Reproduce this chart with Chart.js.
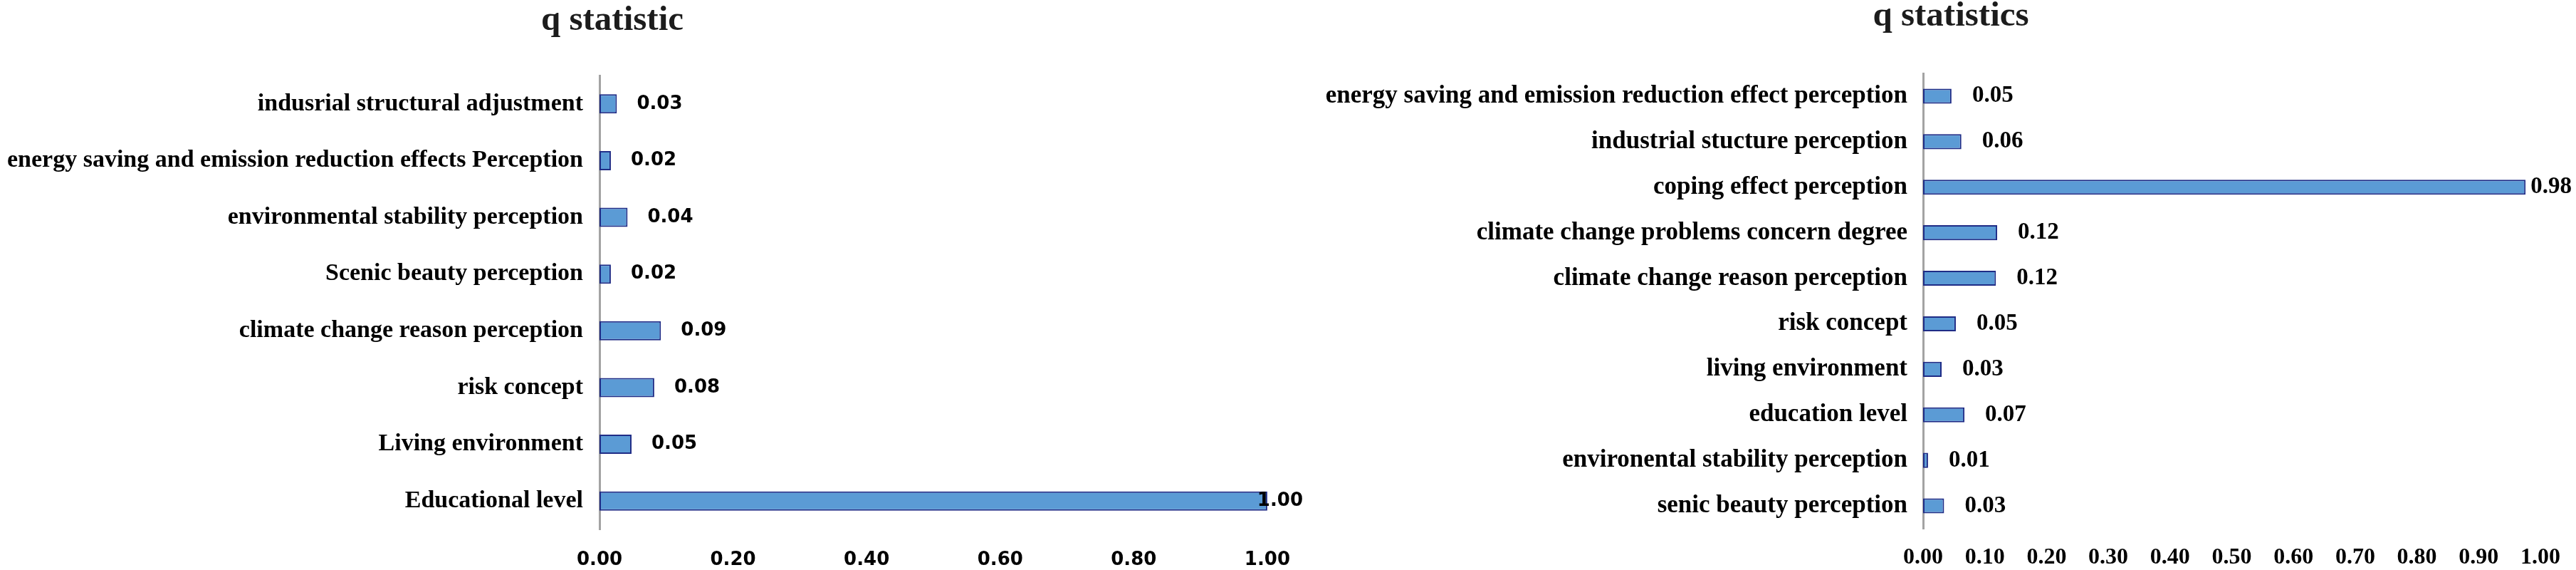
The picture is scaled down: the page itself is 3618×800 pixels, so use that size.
<!DOCTYPE html>
<html>
<head>
<meta charset="utf-8">
<script src="https://cdn.jsdelivr.net/npm/chart.js@4.4.1/dist/chart.umd.min.js"></script>
<style>
html,body{margin:0;padding:0;background:#ffffff;}
#wrap{position:relative;width:3618px;height:800px;background:#ffffff;overflow:hidden;}
#c1{position:absolute;left:0;top:0;}
#c2{position:absolute;left:1840px;top:0;}
</style>
</head>
<body>
<div id="wrap">
<canvas id="c1" width="1840" height="800"></canvas>
<canvas id="c2" width="1778" height="800"></canvas>
</div>
<script>
// ---------------- data ----------------
const leftTitle = 'q statistic';
const leftCategories = [
  'indusrial structural adjustment',
  'energy saving and emission reduction effects Perception',
  'environmental stability perception',
  'Scenic beauty perception',
  'climate change reason perception',
  'risk concept',
  'Living environment',
  'Educational level'
];
const leftValues = [0.026, 0.017, 0.042, 0.017, 0.092, 0.082, 0.048, 1.00];
const leftTickValues = [0, 0.2, 0.4, 0.6, 0.8, 1.0];

const rightTitle = 'q statistics';
const rightCategories = [
  'energy saving and emission reduction effect perception',
  'industrial stucture perception',
  'coping effect perception',
  'climate change problems concern degree',
  'climate change reason perception',
  'risk concept',
  'living environment',
  'education level',
  'environental stability perception',
  'senic beauty perception'
];
const rightValues = [0.046, 0.062, 0.976, 0.120, 0.118, 0.053, 0.030, 0.067, 0.008, 0.034];
const rightTickValues = [0, 0.1, 0.2, 0.3, 0.4, 0.5, 0.6, 0.7, 0.8, 0.9, 1.0];

// ---------------- styles ----------------
const SERIF = '"Liberation Serif","Times New Roman",Times,serif';
const SANS = '"DejaVu Sans",Tahoma,Verdana,sans-serif';
const BAR_FILL = '#5b9bd5';
const BAR_EDGE = '#1f2c86';
const AXIS_COLOR = '#a3a3a3';

const valueLabelPlugin = {
  id: 'valueLabels',
  afterDatasetsDraw(chart, args, opts) {
    const ctx = chart.ctx;
    const meta = chart.getDatasetMeta(0);
    const data = chart.data.datasets[0].data;
    ctx.save();
    ctx.font = opts.font;
    ctx.fillStyle = opts.color;
    ctx.textAlign = 'left';
    ctx.textBaseline = 'middle';
    meta.data.forEach((bar, i) => {
      const txt = Number(data[i]).toFixed(2);
      const w = ctx.measureText(txt).width;
      let x = bar.x + opts.gap;
      if (x + w > opts.maxRight) x = opts.maxRight - w;
      ctx.fillText(txt, x, bar.y);
    });
    ctx.restore();
  }
};

const titlePlugin = {
  id: 'sideTitle',
  afterDraw(chart, args, opts) {
    const ctx = chart.ctx;
    ctx.save();
    ctx.font = opts.font;
    ctx.fillStyle = opts.color;
    ctx.textAlign = 'center';
    ctx.textBaseline = 'alphabetic';
    ctx.fillText(opts.text, opts.x, opts.y);
    ctx.restore();
  }
};

function makeChart(canvasId, cfg) {
  return new Chart(document.getElementById(canvasId), {
    type: 'bar',
    data: {
      labels: cfg.categories,
      datasets: [{
        data: cfg.values,
        backgroundColor: BAR_FILL,
        borderColor: BAR_EDGE,
        borderWidth: 2,
        borderSkipped: false,
        categoryPercentage: 1.0,
        barPercentage: cfg.barPct
      }]
    },
    options: {
      indexAxis: 'y',
      responsive: false,
      animation: false,
      devicePixelRatio: 1,
      layout: { padding: { top: cfg.top, right: cfg.right, left: 0, bottom: 0 } },
      plugins: {
        legend: { display: false },
        tooltip: { enabled: false },
        title: { display: false },
        valueLabels: { font: cfg.valueFont, color: '#000', gap: cfg.gap, maxRight: cfg.maxRight },
        sideTitle: { text: cfg.title, font: cfg.titleFont, color: '#1c1c1c', x: cfg.titleX, y: cfg.titleY }
      },
      scales: {
        x: {
          min: 0, max: 1,
          grid: { display: false, drawTicks: false },
          border: { display: false },
          afterBuildTicks(s) { s.ticks = cfg.tickValues.map(v => ({ value: v })); },
          afterFit(s) { s.height = cfg.xHeight; },
          ticks: {
            autoSkip: false, maxRotation: 0, minRotation: 0,
            padding: cfg.xPad,
            color: '#000',
            font: cfg.xFont,
            callback: v => Number(v).toFixed(2)
          }
        },
        y: {
          grid: { display: false, drawTicks: false },
          border: { display: true, color: AXIS_COLOR, width: 3 },
          afterFit(s) { s.width = cfg.yWidth; },
          ticks: {
            autoSkip: false,
            padding: cfg.yPad,
            color: '#000',
            font: cfg.yFont
          }
        }
      }
    },
    plugins: [valueLabelPlugin, titlePlugin]
  });
}

makeChart('c1', {
  categories: leftCategories, values: leftValues, tickValues: leftTickValues,
  title: leftTitle, titleFont: 'bold 49px ' + SERIF, titleX: 860, titleY: 42,
  barPct: 0.34, top: 106, right: 44, xHeight: 57, yWidth: 842,
  xPad: 28, yPad: 23,
  xFont: { family: SANS, weight: 'bold', size: 26 },
  yFont: { family: SERIF, weight: 'bold', size: 34 },
  valueFont: 'bold 26px ' + SANS, gap: 28, maxRight: 1830
});

makeChart('c2', {
  categories: rightCategories, values: rightValues, tickValues: rightTickValues,
  title: rightTitle, titleFont: 'bold 49px ' + SERIF, titleX: 900, titleY: 36,
  barPct: 0.33, top: 103, right: 35, xHeight: 58, yWidth: 861,
  xPad: 22, yPad: 22,
  xFont: { family: SERIF, weight: 'bold', size: 32 },
  yFont: { family: SERIF, weight: 'bold', size: 35 },
  valueFont: 'bold 33px ' + SERIF, gap: 29, maxRight: 1772
});
</script>
</body>
</html>
